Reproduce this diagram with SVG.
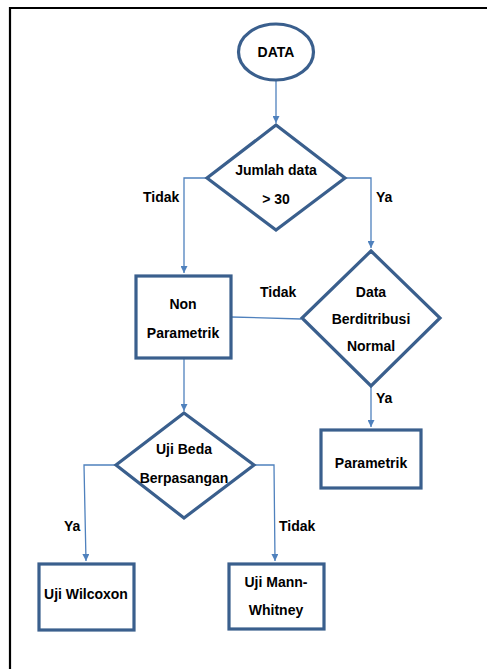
<svg xmlns="http://www.w3.org/2000/svg" width="487" height="669" viewBox="0 0 487 669">
<defs>
<style>
.shape{fill:#fff;stroke:#3A5F8D;stroke-width:3.2;stroke-linejoin:miter}
.conn{fill:none;stroke:#4F81BD;stroke-width:1.3}
.t{font-family:"Liberation Sans",Arial,sans-serif;font-weight:bold;font-size:14px;fill:#000;text-anchor:middle}
.lbl{font-family:"Liberation Sans",Arial,sans-serif;font-weight:bold;font-size:14px;fill:#000}
</style>
<marker id="arr" viewBox="0 0 10 10" refX="10" refY="5" markerWidth="7" markerHeight="7" markerUnits="userSpaceOnUse" orient="auto">
<path d="M0,0 L10,5 L0,10 z" fill="#4F81BD"/>
</marker>
</defs>
<rect width="487" height="669" fill="#fff"/>
<path d="M10,669 V8 H487" fill="none" stroke="#000" stroke-width="2.2"/>

<g id="connectors">
<line class="conn" x1="276" y1="81" x2="276" y2="123" marker-end="url(#arr)"/>
<polyline class="conn" points="206,178 184,178 184,273" marker-end="url(#arr)"/>
<polyline class="conn" points="345,178 371,178 371,248" marker-end="url(#arr)"/>
<line class="conn" x1="231" y1="317" x2="301" y2="319"/>
<line class="conn" x1="371" y1="386" x2="371" y2="427" marker-end="url(#arr)"/>
<line class="conn" x1="184" y1="358" x2="184" y2="411" marker-end="url(#arr)"/>
<polyline class="conn" points="115,465 84,465 86,561" marker-end="url(#arr)"/>
<polyline class="conn" points="255,465 274,465 275,561" marker-end="url(#arr)"/>
<text class="lbl" x="143" y="202">Tidak</text>
<text class="lbl" x="376" y="202">Ya</text>
<text class="lbl" x="260" y="297">Tidak</text>
<text class="lbl" x="376" y="403">Ya</text>
<text class="lbl" x="64" y="531">Ya</text>
<text class="lbl" x="279" y="531">Tidak</text>
</g>

<g id="data">
<ellipse class="shape" cx="276" cy="52" rx="37.5" ry="28"/>
<text class="t" x="276" y="57">DATA</text>
</g>

<g id="jumlah">
<polygon class="shape" points="276,125 345,178 276,230 207,178"/>
<text class="t" x="276" y="175">Jumlah data</text>
<text class="t" x="276" y="204">&gt; 30</text>
</g>

<g id="nonparametrik">
<rect class="shape" x="136" y="276" width="95" height="82"/>
<text class="t" x="183" y="309">Non</text>
<text class="t" x="183" y="338">Parametrik</text>
</g>

<g id="normal">
<polygon class="shape" points="371,251 440,318 371,386 302,318"/>
<text class="t" x="371" y="297">Data</text>
<text class="t" x="371" y="324">Berditribusi</text>
<text class="t" x="371" y="351">Normal</text>
</g>

<g id="parametrik">
<rect class="shape" x="321" y="430" width="100" height="58"/>
<text class="t" x="371" y="468">Parametrik</text>
</g>

<g id="ujibeda">
<polygon class="shape" points="184,413 254,465 184,518 116,465"/>
<text class="t" x="184" y="454">Uji Beda</text>
<text class="t" x="184" y="483">Berpasangan</text>
</g>

<g id="wilcoxon">
<rect class="shape" x="39" y="564" width="95" height="66"/>
<text class="t" x="86" y="599">Uji Wilcoxon</text>
</g>

<g id="mannwhitney">
<rect class="shape" x="229" y="564" width="95" height="65"/>
<text class="t" x="276" y="587">Uji Mann-</text>
<text class="t" x="276" y="615">Whitney</text>
</g>
</svg>
